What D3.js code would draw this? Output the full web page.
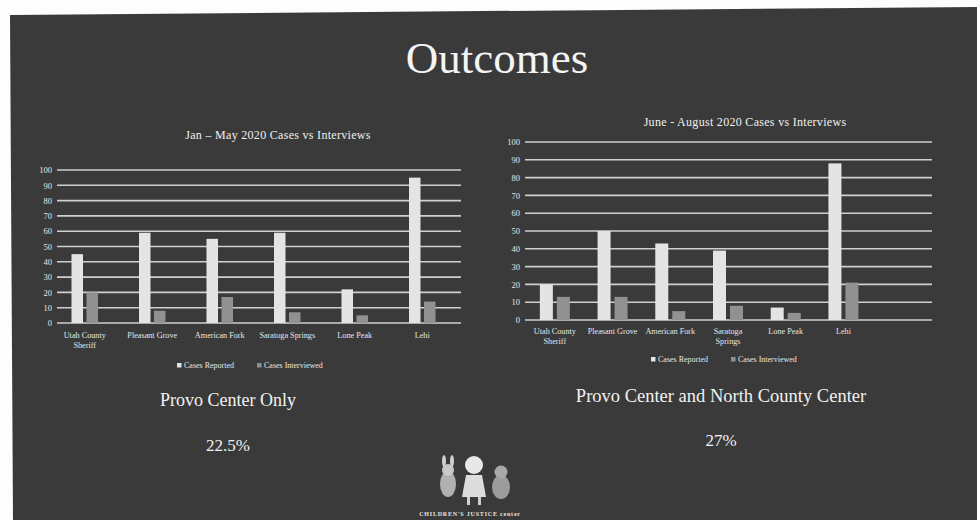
<!DOCTYPE html>
<html>
<head>
<meta charset="utf-8">
<script src="https://cdn.jsdelivr.net/npm/d3@7"></script>
<style>
  body { margin: 0; background: #fff; }
  text { font-family: "Liberation Serif", "DejaVu Serif", serif; }
</style>
</head>
<body>
<div id="slide"></div>
<script>
// chart data
const categories = ["Utah County Sheriff", "Pleasant Grove", "American Fork", "Saratoga Springs", "Lone Peak", "Lehi"];
const janMayReported = [45, 59, 55, 59, 22, 95];
const janMayInterviewed = [20, 8, 17, 7, 5, 14];
const junAugReported = [20, 50, 43, 39, 7, 88];
const junAugInterviewed = [13, 13, 5, 8, 4, 21];
const yTicks = [0, 10, 20, 30, 40, 50, 60, 70, 80, 90, 100];
const seriesNames = ["Cases Reported", "Cases Interviewed"];

const W = 977, H = 520;
const svg = d3.select("#slide").append("svg")
    .attr("width", W)
    .attr("height", H)

// photo of slide: white margin + slightly rotated dark slide
svg.append("rect").attr("width", W).attr("height", H).attr("fill", "#fdfdfd")
svg.append("polygon")
    .attr("points", "10,15 977,7 977,520 13,520")
    .attr("fill", "#3a3a3a")

svg.append("text")
    .attr("x", 497).attr("y", 73)
    .attr("text-anchor", "middle")
    .attr("font-size", 45)
    .attr("fill", "#f4f4f4")
    .text("Outcomes")

const colors = ["#e4e4e4", "#919191"];

function drawChart(opt) {
    const g = svg.append("g")

    const y = d3.scaleLinear()
        .domain([0, 100])
        .range([opt.y0, opt.y100])

    const x = d3.scaleBand()
        .domain(opt.domain)
        .range(opt.xRange)

    // gridlines
    g.selectAll(".grid")
        .data(yTicks)
        .enter().append("line")
        .attr("x1", opt.gridX[0])
        .attr("x2", opt.gridX[1])
        .attr("y1", d => y(d))
        .attr("y2", d => y(d))
        .attr("stroke", "#cfcfcf")
        .attr("stroke-width", 1.6)

    const yAxis = d3.axisLeft(y)
        .tickValues(yTicks)
        .tickSize(0)
        .tickPadding(0)
    g.append("g")
        .attr("transform", `translate(${opt.tickX}, 0)`)
        .call(yAxis)
        .call(s => s.select(".domain").remove())
        .selectAll("text")
        .attr("fill", "#e6e6e6")
        .attr("font-size", 8.5)
        .attr("font-family", "Liberation Serif, serif")

    // bars
    const series = [opt.reported, opt.interviewed];
    series.forEach((vals, si) => {
        g.selectAll(".bar" + si)
            .data(categories)
            .enter().append("rect")
            .attr("x", (d, i) => x(d) + x.bandwidth() / 2 - opt.barW - opt.gap / 2 + si * (opt.barW + opt.gap))
            .attr("y", (d, i) => y(vals[i]))
            .attr("width", opt.barW)
            .attr("height", (d, i) => y(0) - y(vals[i]))
            .attr("fill", colors[si])
    })

    // category labels
    categories.forEach(c => {
        const lines = opt.wrap[c] || [c];
        const t = g.append("text")
            .attr("x", x(c) + x.bandwidth() / 2)
            .attr("y", opt.labelY)
            .attr("text-anchor", "middle")
            .attr("font-size", 8.2)
            .attr("fill", "#e6e6e6")
        lines.forEach((l, i) => {
            t.append("tspan")
                .attr("x", x(c) + x.bandwidth() / 2)
                .attr("dy", i ? 10 : 0)
                .text(l)
        })
    })

    g.append("text")
        .attr("x", opt.titleX).attr("y", opt.titleY)
        .attr("text-anchor", "middle")
        .attr("font-size", 12)
        .attr("letter-spacing", 0.3)
        .attr("fill", "#f0f0f0")
        .text(opt.title)

    // legend
    const lg = g.append("g").attr("transform", `translate(${opt.legendX - 76}, ${opt.legendY})`)
    seriesNames.forEach((n, i) => {
        lg.append("rect")
            .attr("x", i * 80).attr("y", -5)
            .attr("width", 4.5).attr("height", 4.5)
            .attr("fill", colors[i])
        lg.append("text")
            .attr("x", i * 80 + 7).attr("y", 0)
            .attr("font-size", 8)
            .attr("fill", "#e6e6e6")
            .text(n)
    })
}

drawChart({
    title: "Jan \u2013 May 2020 Cases vs Interviews",
    titleX: 278, titleY: 139,
    domain: categories,
    xRange: [51, 456],
    gridX: [57, 461],
    y0: 323, y100: 170,
    tickX: 52,
    reported: janMayReported,
    interviewed: janMayInterviewed,
    barW: 11.5, gap: 3.5,
    labelY: 338,
    wrap: { "Utah County Sheriff": ["Utah County", "Sheriff"] },
    legendX: 253, legendY: 368
})

drawChart({
    title: "June - August 2020 Cases vs Interviews",
    titleX: 745, titleY: 126,
    domain: categories.concat([""]),
    xRange: [526, 930],
    gridX: [525, 932],
    y0: 320, y100: 142,
    tickX: 520,
    reported: junAugReported,
    interviewed: junAugInterviewed,
    barW: 13, gap: 4,
    labelY: 334,
    wrap: { "Utah County Sheriff": ["Utah County", "Sheriff"], "Saratoga Springs": ["Saratoga", "Springs"] },
    legendX: 727, legendY: 362
})

// summary text
const notes = [
    { x: 228, y: 406, s: 18, t: "Provo Center Only" },
    { x: 228, y: 451, s: 17, t: "22.5%" },
    { x: 721, y: 402, s: 18.5, t: "Provo Center and North County Center" },
    { x: 721, y: 446, s: 17, t: "27%" }
];
notes.forEach(n => {
    svg.append("text")
        .attr("x", n.x).attr("y", n.y)
        .attr("text-anchor", "middle")
        .attr("font-size", n.s)
        .attr("fill", "#f2f2f2")
        .text(n.t)
})

// logo, roughly
const logo = svg.append("g")
logo.append("ellipse").attr("cx", 448).attr("cy", 484).attr("rx", 8).attr("ry", 13).attr("fill", "#b0b0b0")
logo.append("circle").attr("cx", 448).attr("cy", 470).attr("r", 6).attr("fill", "#c8c8c8")
logo.append("ellipse").attr("cx", 444).attr("cy", 461).attr("rx", 2).attr("ry", 6).attr("fill", "#cfcfcf")
logo.append("ellipse").attr("cx", 452).attr("cy", 461).attr("rx", 2).attr("ry", 6).attr("fill", "#cfcfcf")
logo.append("circle").attr("cx", 474).attr("cy", 465).attr("r", 9).attr("fill", "#e8e8e8")
logo.append("path").attr("d", "M466,475 L482,475 L486,497 L462,497 Z").attr("fill", "#dcdcdc")
logo.append("rect").attr("x", 467).attr("y", 497).attr("width", 3).attr("height", 8).attr("fill", "#cfcfcf")
logo.append("rect").attr("x", 478).attr("y", 497).attr("width", 3).attr("height", 8).attr("fill", "#cfcfcf")
logo.append("ellipse").attr("cx", 501).attr("cy", 487).attr("rx", 9).attr("ry", 12).attr("fill", "#9c9c9c")
logo.append("circle").attr("cx", 501).attr("cy", 472).attr("r", 6.5).attr("fill", "#aaaaaa")
svg.append("text")
    .attr("x", 470).attr("y", 516)
    .attr("text-anchor", "middle")
    .attr("font-size", 6)
    .attr("font-weight", "bold")
    .attr("letter-spacing", 0.8)
    .attr("fill", "#e6e6e6")
    .text("CHILDREN'S JUSTICE center")
</script>
</body>
</html>
